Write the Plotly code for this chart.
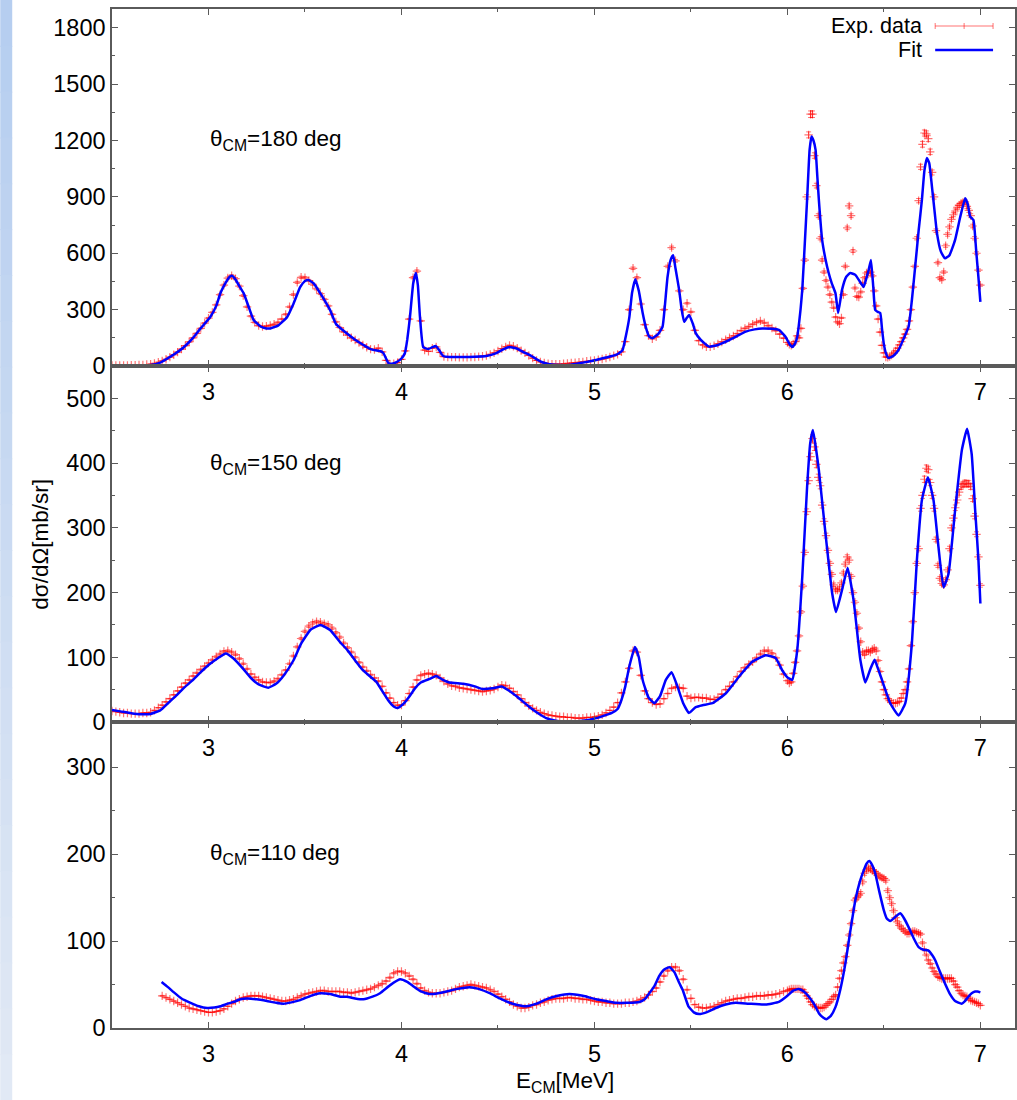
import numpy as np
import plotly.graph_objects as go
from plotly.subplots import make_subplots

# ---------------- data ----------------
# energy grids of the measured points
E_LOW = np.round(np.arange(2.50, 5.9801, 0.02), 2)    # 2.50 .. 5.98
E_LOW3 = np.round(np.arange(2.76, 5.9801, 0.02), 2)   # 2.76 .. 5.98
E_HIGH = np.round(np.arange(6.00, 7.0001, 0.01), 2)   # 6.00 .. 7.00

# theta_CM = 180 deg : experimental points
exp180_low = [
    3, 3, 3, 3, 3, 4, 4, 5, 6, 8,
    10, 14, 20, 27, 36, 47, 60, 74, 90, 108,
    128, 150, 174, 200, 228, 255, 285, 325, 380, 430,
    468, 480, 465, 425, 375, 315, 265, 232, 215, 210,
    212, 216, 222, 232, 250, 275, 315, 380, 445, 472,
    470, 455, 435, 410, 385, 355, 320, 275, 235, 205,
    182, 165, 150, 138, 125, 112, 100, 90, 88, 95,
    75, 30, 10, 12, 18, 35, 80, 250, 470, 505,
    240, 85, 78, 95, 102, 72, 50, 48, 47, 47,
    46, 46, 46, 47, 48, 50, 52, 56, 62, 70,
    80, 92, 102, 110, 105, 95, 82, 70, 56, 42,
    30, 22, 16, 12, 10, 10, 10, 12, 14, 16,
    18, 20, 22, 25, 28, 30, 33, 37, 42, 48,
    55, 62, 75, 130, 300, 520, 470, 330, 220, 162,
    145, 155, 190, 300, 530, 630, 560, 400, 300, 334,
    288, 190, 135, 112, 102, 102, 108, 118, 128, 140,
    150, 160, 172, 188, 200, 210, 222, 232, 240, 230,
    215, 202, 188, 170, 148,
]
exp180_high = [
    125, 115, 110, 118, 130, 160, 150, 200, 413, 564,
    900, 1230, 1340, 1340, 1120, 960, 800, 680, 564, 500,
    455, 420, 380, 340, 310, 260, 235, 225, 256, 380,
    530, 735, 852, 800, 612, 415, 370, 367, 394, 440,
    470, 495, 500, 500, 480, 400, 320, 250, 180, 110,
    70, 48, 46, 50, 58, 69, 80, 95, 112, 130,
    150, 170, 195, 240, 300, 420, 530, 680, 880, 1060,
    1180, 1240, 1235, 1210, 1140, 1030, 900, 720, 550, 470,
    460, 500, 640, 700, 740, 780, 805, 825, 845, 855,
    865, 870, 873, 850, 828, 800, 745, 680, 600, 510,
    430,
]
fit180 = [
    (2.50, 3), (2.60, 2), (2.70, 5), (2.75, 18), (2.787, 40), (2.83, 68),
    (2.872, 100), (2.92, 150), (2.959, 200), (3.01, 262), (3.04, 320),
    (3.062, 388), (3.09, 445), (3.11, 475), (3.122, 480), (3.14, 460),
    (3.16, 425), (3.182, 388), (3.21, 310), (3.234, 245), (3.27, 210),
    (3.30, 200), (3.32, 200), (3.36, 215), (3.407, 260), (3.44, 330),
    (3.475, 420), (3.50, 452), (3.518, 458), (3.545, 440), (3.579, 388),
    (3.61, 335), (3.63, 298), (3.66, 225), (3.716, 174), (3.76, 140),
    (3.803, 112), (3.84, 90), (3.872, 82), (3.89, 80), (3.906, 69),
    (3.92, 40), (3.932, 16), (3.95, 12), (3.975, 21), (4.00, 40),
    (4.018, 69), (4.03, 140), (4.044, 260), (4.061, 440), (4.075, 495),
    (4.085, 430), (4.096, 260), (4.113, 100), (4.139, 90), (4.16, 100),
    (4.178, 106), (4.195, 85), (4.216, 53), (4.25, 48), (4.319, 48),
    (4.38, 49), (4.44, 53), (4.492, 69), (4.53, 90), (4.561, 101),
    (4.60, 92), (4.63, 75), (4.67, 55), (4.699, 37), (4.73, 20),
    (4.767, 10), (4.82, 5), (4.871, 5), (4.94, 18), (5.009, 32),
    (5.06, 45), (5.112, 59), (5.13, 70), (5.146, 85), (5.165, 170),
    (5.181, 260), (5.195, 390), (5.212, 462), (5.23, 400), (5.25, 282),
    (5.268, 200), (5.284, 156), (5.301, 148), (5.33, 170), (5.353, 209),
    (5.365, 320), (5.379, 475), (5.395, 565), (5.408, 590), (5.42, 520),
    (5.439, 405), (5.452, 300), (5.465, 235), (5.478, 255), (5.491, 272),
    (5.51, 225), (5.525, 175), (5.55, 140), (5.577, 115), (5.594, 103),
    (5.64, 112), (5.698, 138), (5.74, 160), (5.784, 183), (5.83, 195),
    (5.87, 200), (5.92, 198), (5.956, 192), (5.99, 156), (6.01, 118),
    (6.025, 101), (6.04, 120), (6.051, 156), (6.068, 300), (6.077, 405),
    (6.09, 650), (6.102, 884), (6.115, 1150), (6.125, 1221), (6.135, 1200),
    (6.146, 1150), (6.155, 1010), (6.163, 884), (6.18, 671), (6.197, 570),
    (6.214, 495), (6.23, 440), (6.249, 388), (6.263, 282), (6.283, 405),
    (6.305, 475), (6.326, 495), (6.352, 485), (6.375, 450), (6.395, 421),
    (6.41, 470), (6.421, 511), (6.433, 564), (6.445, 420), (6.455, 298),
    (6.468, 288), (6.481, 282), (6.49, 200), (6.499, 122), (6.51, 70),
    (6.524, 42), (6.55, 55), (6.576, 85), (6.60, 140), (6.628, 209),
    (6.645, 350), (6.662, 527), (6.68, 720), (6.697, 884), (6.71, 1040),
    (6.723, 1107), (6.735, 1080), (6.749, 955), (6.762, 830), (6.775, 707),
    (6.795, 610), (6.817, 573), (6.84, 590), (6.869, 671), (6.895, 790),
    (6.921, 893), (6.935, 860), (6.947, 795), (6.964, 777), (6.978, 617),
    (6.99, 470), (7.00, 341),
]

# theta_CM = 150 deg
exp150_low = [
    17, 16, 15, 14, 14, 13, 13, 13, 14, 14,
    15, 18, 22, 26, 31, 36, 42, 48, 54, 60,
    65, 71, 76, 81, 86, 91, 96, 101, 105, 109,
    110, 108, 104, 98, 90, 82, 74, 69, 65, 62,
    61, 61, 63, 67, 73, 80, 90, 102, 116, 129,
    140, 148, 153, 155, 154, 152, 150, 145, 138, 131,
    122, 115, 108, 100, 92, 85, 79, 73, 68, 63,
    55, 45, 37, 30, 26, 26, 33, 44, 54, 65,
    72, 74, 75, 74, 72, 68, 63, 59, 56, 55,
    53, 52, 51, 50, 49, 48, 47, 48, 49, 51,
    54, 57, 56, 52, 47, 42, 36, 30, 25, 21,
    18, 15, 13, 11, 10, 9, 8, 8, 7, 7,
    6, 6, 6, 7, 7, 8, 9, 11, 14, 18,
    23, 30, 45, 62, 83, 110, 108, 72, 48, 36,
    30, 27, 28, 36, 44, 52, 54, 53, 52, 40,
    37, 38, 38, 37, 37, 35, 35, 38, 43, 50,
    55, 62, 70, 78, 84, 89, 93, 99, 105, 110,
    110, 106, 99, 88, 74,
]
exp150_high = [
    64, 60, 62, 75, 92, 110, 133, 170, 210, 262,
    325, 373, 410, 438, 425, 398, 378, 365, 335, 310,
    288, 265, 245, 228, 212, 204, 204, 207, 215, 230,
    244, 255, 250, 225, 200, 185, 168, 145, 124, 108,
    104, 110, 110, 108, 112, 114, 110, 95, 78, 62,
    50, 42, 36, 33, 30, 29, 29, 30, 32, 37,
    44, 50, 62, 82, 118, 155, 200, 245, 268, 330,
    350, 375, 392, 390, 370, 350, 330, 282, 242, 222,
    214, 212, 220, 235, 268, 300, 315, 331, 343, 355,
    364, 367, 369, 368, 368, 364, 345, 318, 290, 255,
    211,
]
fit150 = [
    (2.50, 18.5), (2.55, 16), (2.60, 13.5), (2.65, 12), (2.70, 12.5),
    (2.75, 18), (2.79, 29), (2.83, 40), (2.87, 52), (2.92, 65), (2.96, 77),
    (3.00, 88), (3.05, 99), (3.09, 106), (3.13, 98), (3.18, 82), (3.22, 68),
    (3.26, 58), (3.31, 53), (3.35, 59), (3.39, 72), (3.44, 95), (3.48, 121),
    (3.53, 143), (3.58, 150), (3.63, 142), (3.68, 124), (3.72, 111),
    (3.76, 95), (3.80, 80), (3.87, 62), (3.90, 48), (3.93, 34), (3.96, 24),
    (3.98, 21.6), (4.01, 28), (4.04, 39), (4.07, 52), (4.10, 61),
    (4.15, 67), (4.18, 71), (4.21, 66), (4.25, 61), (4.32, 59), (4.38, 55),
    (4.42, 51), (4.47, 52), (4.52, 55), (4.56, 48), (4.60, 39), (4.66, 24),
    (4.70, 15), (4.75, 6), (4.80, 2), (4.85, 0.5), (4.94, 2), (5.01, 6),
    (5.09, 14), (5.12, 20), (5.14, 34), (5.16, 55), (5.18, 85), (5.21, 116),
    (5.23, 100), (5.25, 65), (5.28, 38), (5.31, 29), (5.34, 40), (5.37, 65),
    (5.40, 77), (5.43, 55), (5.46, 29), (5.49, 14), (5.525, 23), (5.56, 26),
    (5.611, 29), (5.68, 44), (5.749, 70), (5.818, 93), (5.887, 103),
    (5.939, 99), (5.973, 80), (6.00, 69), (6.025, 65), (6.051, 111),
    (6.077, 224), (6.102, 363), (6.118, 430), (6.132, 451), (6.147, 425),
    (6.163, 389), (6.197, 292), (6.232, 199), (6.252, 170), (6.283, 204),
    (6.312, 238), (6.343, 188), (6.378, 96), (6.404, 61), (6.43, 82),
    (6.452, 96), (6.47, 82), (6.49, 65), (6.533, 29), (6.576, 10),
    (6.611, 29), (6.645, 121), (6.671, 250), (6.697, 343), (6.728, 378),
    (6.757, 343), (6.783, 270), (6.809, 208), (6.835, 229), (6.869, 327),
    (6.904, 420), (6.931, 453), (6.955, 414), (6.973, 327), (6.99, 250),
    (7.00, 183),
]

# theta_CM = 110 deg
exp110_low = [
    37, 35, 33, 31, 29, 27, 25, 23, 22, 21,
    20, 19, 18, 18, 19, 20, 22, 25, 28, 31,
    33, 35, 36, 37, 37, 37, 36, 35, 34, 33,
    32, 31, 31, 32, 33, 35, 37, 39, 40, 41,
    42, 43, 43, 42, 42, 42, 42, 41, 41, 40,
    41, 42, 43, 44, 45, 47, 49, 51, 54, 58,
    63, 65, 65, 63, 60, 56, 51, 46, 43, 41,
    40, 40, 40, 41, 42, 43, 45, 47, 48, 49,
    50, 49, 48, 47, 46, 44, 42, 39, 36, 33,
    30, 27, 25, 23, 23, 24, 26, 27, 29, 30,
    32, 33, 34, 34, 34, 35, 35, 34, 34, 33,
    33, 32, 31, 30, 30, 29, 29, 28, 28, 28,
    29, 29, 30, 31, 33, 35, 38, 42, 46, 53,
    60, 66, 70, 70, 66, 56, 44, 34, 27, 24,
    23, 23, 24, 25, 27, 29, 31, 32, 33, 34,
    34, 35, 36, 36, 37, 37, 37, 38, 38, 39,
    40, 42,
]
exp110_high = [
    43, 44, 45, 45, 45, 45, 45, 44, 44, 41,
    37, 34, 30, 27, 25, 24, 23, 23, 23, 24,
    26, 28, 30, 33, 36, 38, 47, 57, 66, 75,
    82, 95, 107, 120, 135, 147, 150, 153, 155, 168,
    178, 182, 184, 183, 181, 180, 178, 176, 174, 173,
    172, 170, 158, 150, 143, 135, 127, 122, 118, 115,
    113, 111, 109, 109, 110, 111, 111, 110, 109, 108,
    98, 90, 84, 78, 74, 69, 65, 62, 59, 58,
    57, 57, 57, 57, 57, 57, 54, 50, 47, 43,
    40, 38, 37, 36, 34, 32, 31, 30, 29, 28,
    26,
]
fit110 = [
    (2.757, 53), (2.79, 47), (2.821, 41), (2.86, 34), (2.907, 29),
    (2.95, 25), (2.993, 23), (3.03, 23.5), (3.062, 25), (3.10, 28),
    (3.131, 30), (3.165, 33), (3.20, 34), (3.25, 33), (3.303, 31),
    (3.35, 29), (3.389, 28), (3.43, 29.5), (3.475, 32), (3.53, 37),
    (3.579, 40), (3.63, 39), (3.682, 36), (3.717, 36), (3.76, 34),
    (3.803, 33), (3.85, 36), (3.889, 40), (3.94, 49), (3.992, 56),
    (4.03, 53), (4.061, 48), (4.10, 42), (4.147, 39), (4.19, 40),
    (4.233, 42), (4.29, 45), (4.354, 47), (4.40, 45), (4.457, 40),
    (4.51, 34), (4.561, 29), (4.60, 26.5), (4.647, 25), (4.70, 28),
    (4.75, 33), (4.81, 37), (4.871, 39), (4.94, 37), (5.009, 33),
    (5.06, 31), (5.112, 29), (5.17, 29), (5.233, 30), (5.26, 33),
    (5.284, 40), (5.31, 48), (5.336, 60), (5.36, 67), (5.39, 70),
    (5.415, 64), (5.439, 52), (5.457, 44), (5.487, 25), (5.515, 18),
    (5.543, 16), (5.58, 18), (5.629, 23), (5.68, 27), (5.732, 29),
    (5.80, 28), (5.887, 27), (5.956, 30), (6.00, 37), (6.03, 43),
    (6.059, 45), (6.085, 42), (6.111, 36), (6.14, 27), (6.163, 17),
    (6.185, 12), (6.202, 10), (6.225, 14), (6.249, 24), (6.275, 45),
    (6.301, 75), (6.325, 110), (6.352, 147), (6.375, 168), (6.395, 181),
    (6.41, 189), (6.424, 192), (6.44, 187), (6.455, 178), (6.475, 158),
    (6.499, 136), (6.515, 126), (6.533, 123), (6.56, 128), (6.585, 132),
    (6.605, 126), (6.628, 116), (6.655, 103), (6.68, 93), (6.705, 90),
    (6.731, 89), (6.75, 84), (6.766, 78), (6.79, 65), (6.817, 51),
    (6.845, 38), (6.869, 31), (6.903, 28), (6.92, 31), (6.938, 36),
    (6.955, 40), (6.973, 42), (6.985, 42), (7.00, 41),
]

ANGLES = ["180", "150", "110"]
Y_RANGES = [[0, 1900], [0, 550], [0, 352]]
Y_DTICK = [300, 100, 100]
Y_LABEL_POS = [1203, 398, 200]
X_TICKS = [3, 4, 5, 6, 7]

assert len(exp180_low) == len(E_LOW), len(exp180_low)
assert len(exp150_low) == len(E_LOW), len(exp150_low)
assert len(exp110_low) == len(E_LOW3), len(exp110_low)
for a in (exp180_high, exp150_high, exp110_high):
    assert len(a) == len(E_HIGH), len(a)

panels = [
    (np.concatenate([E_LOW, E_HIGH]), exp180_low + exp180_high, fit180),
    (np.concatenate([E_LOW, E_HIGH]), exp150_low + exp150_high, fit150),
    (np.concatenate([E_LOW3, E_HIGH]), exp110_low + exp110_high, fit110),
]

# ---------------- figure ----------------
FONT = "Liberation Sans, Arial, sans-serif"
FS_TICK = 23.5
FS_TEXT = 22.5
FS_LEG = 21.5
AXC = "#5a5a5a"
RED = "rgba(255,0,0,0.55)"

fig = make_subplots(rows=3, cols=1, vertical_spacing=0)

W, H = 1017, 1100
L, R, T, B = 112, 0, 9, 72
PW, PH = W - L - R, H - T - B
bottom_px = H - B


def ppx(x):
    return (x - L) / PW


def ppy(y):
    return (bottom_px - y) / PH


domains = [[ppy(366), 1.0], [ppy(722), ppy(366)], [0.0, ppy(722)]]

for i, (ex, ey, fit) in enumerate(panels):
    row = i + 1
    fx = [p[0] for p in fit]
    fy = [p[1] for p in fit]
    fig.add_trace(go.Scatter(
        x=ex, y=ey, mode="markers", showlegend=False,
        marker=dict(symbol="cross-thin", size=6, color=RED,
                    line=dict(width=1.2, color=RED)),
        error_y=dict(type="percent", value=1.3, color=RED, thickness=1, width=2.5),
    ), row=row, col=1)
    fig.add_trace(go.Scatter(
        x=fx, y=fy, mode="lines", showlegend=False,
        line=dict(color="#0000ff", width=2.5, shape="spline", smoothing=0.4),
    ), row=row, col=1)

    ax_common = dict(showline=True, linecolor=AXC, linewidth=1.5, mirror="allticks",
                     ticks="inside", ticklen=6, tickwidth=1, tickcolor=AXC,
                     showgrid=False, zeroline=False,
                     tickfont=dict(family=FONT, size=FS_TICK, color="black"))
    fig.update_xaxes(range=[2.5, 2.5 + PW / 193.4], tickvals=X_TICKS,
                     ticklabelstandoff=4,
                     minor=dict(ticks="inside", ticklen=3, tickcolor=AXC, dtick=0.5, tick0=2.5),
                     row=row, col=1, **ax_common)
    fig.update_yaxes(range=Y_RANGES[i], tick0=0, dtick=Y_DTICK[i], domain=domains[i],
                     minor=dict(ticks="inside", ticklen=3, tickcolor=AXC, dtick=Y_DTICK[i] / 2),
                     row=row, col=1, **ax_common)
    yref = "y" if i == 0 else f"y{i + 1}"
    xref = "x" if i == 0 else f"x{i + 1}"
    fig.add_annotation(x=3.0, y=Y_LABEL_POS[i], xref=xref, yref=yref,
                       xanchor="left", yanchor="middle", showarrow=False,
                       text=f"θ<sub>CM</sub>={ANGLES[i]} deg",
                       font=dict(family=FONT, size=FS_TEXT, color="black"))

# axis titles
fig.add_annotation(x=ppx(25), y=ppy(544), xref="paper", yref="paper", showarrow=False,
                   text="dσ/dΩ[mb/sr]", textangle=-90,
                   font=dict(family=FONT, size=FS_TEXT, color="black"))
fig.add_annotation(x=ppx(566), y=ppy(1066), xref="paper", yref="paper", showarrow=False,
                   xanchor="center", yanchor="top",
                   text="E<sub>CM</sub>[MeV]",
                   font=dict(family=FONT, size=FS_TEXT, color="black"))

# legend (drawn by hand, gnuplot style)
fig.add_annotation(x=ppx(926), y=ppy(26), xref="paper", yref="paper", showarrow=False,
                   xanchor="right", yanchor="middle", text="Exp. data",
                   font=dict(family=FONT, size=FS_LEG, color="black"))
fig.add_annotation(x=ppx(926), y=ppy(50), xref="paper", yref="paper", showarrow=False,
                   xanchor="right", yanchor="middle", text="Fit",
                   font=dict(family=FONT, size=FS_LEG, color="black"))
shapes = []
shapes.append(dict(type="line", xref="paper", yref="paper", x0=ppx(937), x1=ppx(995),
                   y0=ppy(26), y1=ppy(26), line=dict(color=RED, width=1)))
for xx in (937, 966, 995):
    shapes.append(dict(type="line", xref="paper", yref="paper", x0=ppx(xx), x1=ppx(xx),
                       y0=ppy(23), y1=ppy(29), line=dict(color=RED, width=1)))
shapes.append(dict(type="line", xref="paper", yref="paper", x0=ppx(937), x1=ppx(995),
                   y0=ppy(50), y1=ppy(50), line=dict(color="#0000ff", width=2.5)))

# light blue strip on the left edge (slide background)
n = 24
c0 = np.array([182, 206, 240])
c1 = np.array([225, 233, 245])
for k in range(n):
    t = k / (n - 1)
    c = (c0 * (1 - t) + c1 * t).astype(int)
    y0 = H * k / n
    y1 = H * (k + 1) / n + 1
    shapes.append(dict(type="rect", xref="paper", yref="paper", layer="below",
                       x0=ppx(0), x1=ppx(12), y0=ppy(y1), y1=ppy(y0),
                       line=dict(width=0), fillcolor=f"rgb({c[0]},{c[1]},{c[2]})"))

fig.update_layout(
    width=W, height=H, margin=dict(l=L, r=R, t=T, b=B),
    paper_bgcolor="white", plot_bgcolor="white",
    shapes=shapes, showlegend=False,
    font=dict(family=FONT, size=FS_TEXT, color="black"),
)

fig.write_html("out.html")
